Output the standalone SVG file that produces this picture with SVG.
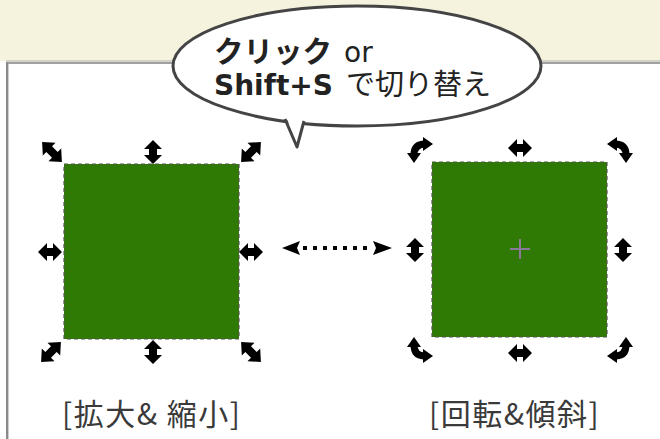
<svg xmlns="http://www.w3.org/2000/svg" width="660" height="439" viewBox="0 0 660 439">
<style>
.lbl{font-family:"Noto Sans CJK JP","Noto Sans",sans-serif;font-size:30px;fill:#3a3a3a;letter-spacing:1.5px}
.bub{font-family:"DejaVu Sans","Noto Sans CJK JP",sans-serif;font-size:28px;fill:#222}
.jp{font-family:"Noto Sans CJK JP",sans-serif;font-size:29.5px}
.b{font-weight:bold}
.box{fill:#2f7905}
.edge{fill:none;stroke:#555;stroke-width:1.2;stroke-dasharray:4 3}
.h{fill:#000}
</style>
<defs>
<polygon id="dbl" class="h" points="0,-12 9,-3 4,-3 4,3 9,3 0,12 -9,3 -4,3 -4,-3 -9,-3"/>
<polygon id="diag" class="h" points="0,-14 9,-4 4,-4 4,4 9,4 0,14 -9,4 -4,4 -4,-4 -9,-4"/>
<g id="rot">
<path d="M-6,5 Q-6,-6 5,-6" fill="none" stroke="#000" stroke-width="7"/>
<polygon points="-6,13 -13,3 1,3" fill="#000"/>
<polygon points="13,-6 3,-13 3,1" fill="#000"/>
</g>
</defs>
<rect x="0" y="0" width="660" height="61" fill="#f5f2de"/>
<rect x="6" y="60" width="654" height="2" fill="#d2d2c8"/>
<rect x="6" y="62" width="654" height="2" fill="#a0a0a0"/>
<rect x="6" y="62" width="2" height="377" fill="#8a8a8a"/>
<rect x="8" y="64" width="1" height="375" fill="#cfcfcf"/>

<g id="bubble">
<ellipse cx="357" cy="66" rx="184" ry="60" fill="#fff" stroke="#444" stroke-width="3"/>
<polygon points="286,116 297,146 304,116" fill="#fff"/>
<polyline points="285,119 297,147 304,121" fill="none" stroke="#444" stroke-width="3" stroke-linejoin="round"/>
<text class="bub" y="62"><tspan x="214" class="b jp">クリック</tspan><tspan x="344">or</tspan></text>
<text class="bub" y="95"><tspan x="214" class="b">Shift+S</tspan><tspan x="346" class="jp" style="font-size:29px">で切り替え</tspan></text>
</g>

<g id="scale-box">
<rect class="box" x="64" y="164" width="175" height="175"/>
<rect class="edge" x="64" y="164" width="175" height="175"/>
<use href="#diag" transform="translate(52,152) rotate(-45)"/>
<use href="#dbl" transform="translate(153,152)"/>
<use href="#diag" transform="translate(251,152) rotate(45)"/>
<use href="#dbl" transform="translate(50,252) rotate(90)"/>
<use href="#dbl" transform="translate(251,252) rotate(90)"/>
<use href="#diag" transform="translate(51,352) rotate(45)"/>
<use href="#dbl" transform="translate(153,352)"/>
<use href="#diag" transform="translate(251,352) rotate(-45)"/>
<text class="lbl" x="62" y="425">[拡大&amp; 縮小]</text>
</g>

<g id="rotate-box">
<rect class="box" x="432" y="162" width="175" height="175"/>
<rect class="edge" x="432" y="162" width="175" height="175"/>
<path d="M510,249 H530 M520,239 V259" stroke="#8a7a98" stroke-width="2"/>
<use href="#rot" transform="translate(420,150)"/>
<use href="#dbl" transform="translate(520,148) rotate(90)"/>
<use href="#rot" transform="translate(620,150) rotate(90)"/>
<use href="#dbl" transform="translate(415,250)"/>
<use href="#dbl" transform="translate(623,250)"/>
<use href="#rot" transform="translate(420,350) rotate(-90)"/>
<use href="#dbl" transform="translate(520,353) rotate(90)"/>
<use href="#rot" transform="translate(620,350) rotate(180)"/>
<text class="lbl" x="429" y="425">[回転&amp;傾斜]</text>
</g>

<g id="connectors">
<polygon points="282,248 300,241 297,248 300,255" fill="#000"/>
<line x1="303" y1="248" x2="370" y2="248" stroke="#000" stroke-width="4" stroke-dasharray="4 6"/>
<polygon points="392,248 373,241 376,248 373,255" fill="#000"/>
</g>
</svg>
